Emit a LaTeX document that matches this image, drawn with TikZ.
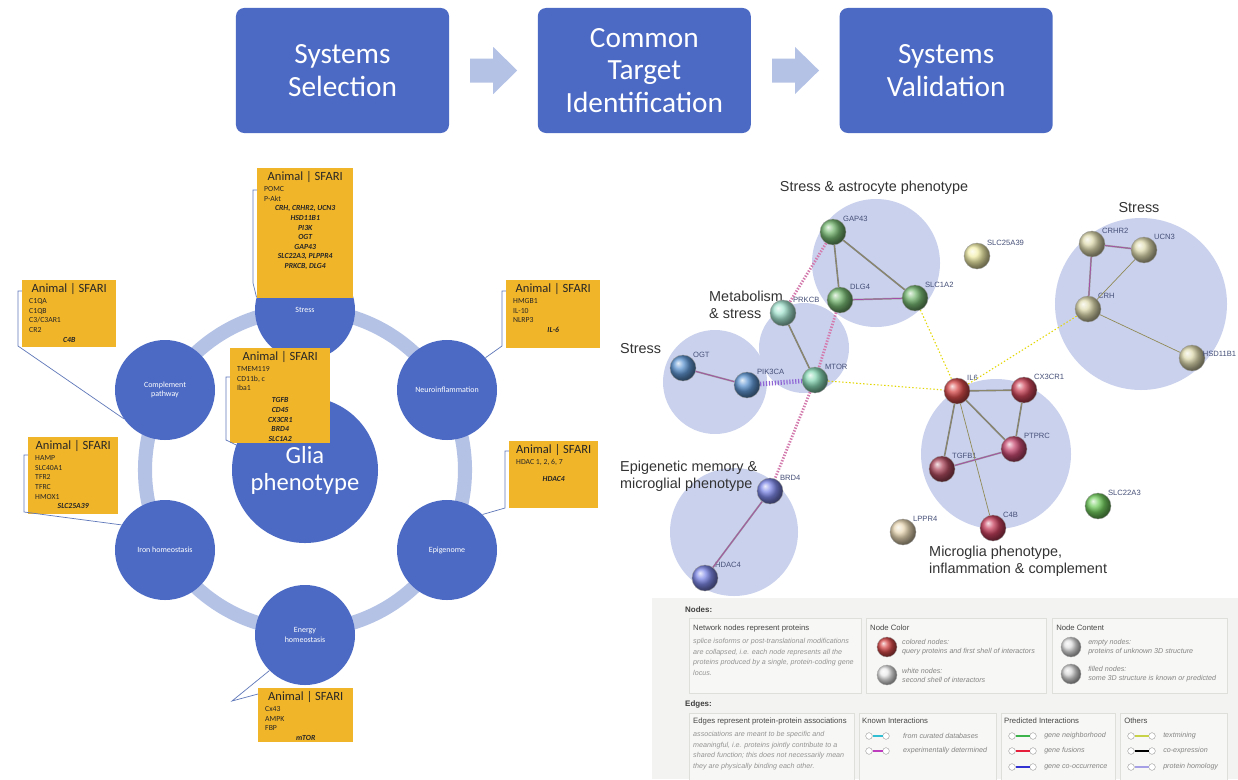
\documentclass[tikz,border=0pt]{standalone}
\usepackage{fontspec}
\setmainfont{Carlito}
\newfontfamily\netfont{Liberation Sans}
\usepackage{xcolor}
\usepackage{tikz}
\usetikzlibrary{positioning,calc}

\definecolor{boxblue}{RGB}{76,106,196}
\definecolor{ringblue}{RGB}{180,194,230}
\definecolor{ygold}{RGB}{241,181,42}
\definecolor{callline}{RGB}{95,120,185}
\definecolor{clusfill}{RGB}{202,209,237}
\definecolor{lblcol}{RGB}{70,80,120}
\definecolor{legbg}{RGB}{243,243,241}
\definecolor{legbox}{RGB}{247,247,245}
\definecolor{legline}{RGB}{222,222,218}
% node colours of the network
\definecolor{cgreen}{RGB}{120,185,115}
\definecolor{cteal}{RGB}{165,228,208}
\definecolor{cmint}{RGB}{135,215,180}
\definecolor{cblue}{RGB}{95,150,210}
\definecolor{cviolet}{RGB}{125,135,230}
\definecolor{cpale}{RGB}{242,238,170}
\definecolor{ckhaki}{RGB}{222,218,175}
\definecolor{cred}{RGB}{215,75,75}
\definecolor{crose}{RGB}{205,70,90}
\definecolor{cmag}{RGB}{200,75,115}
\definecolor{cmaroon}{RGB}{175,75,95}
\definecolor{cfourb}{RGB}{200,65,95}
\definecolor{ctan}{RGB}{232,215,180}
\definecolor{clime}{RGB}{115,205,95}
% legend edge colours
\definecolor{ecurated}{RGB}{50,190,210}
\definecolor{eexper}{RGB}{190,60,190}
\definecolor{eneigh}{RGB}{60,180,75}
\definecolor{efusion}{RGB}{230,30,60}
\definecolor{ecooc}{RGB}{50,50,210}
\definecolor{etext}{RGB}{200,210,70}
\definecolor{ehomol}{RGB}{165,160,230}

\newcommand{\fsz}[2]{\fontsize{#1}{#2}\selectfont}
\newcommand{\ybody}[3]{\parbox[c][#2][t]{#1}{\raggedright #3}}
\newcommand{\ytitle}{{\fsz{10.7}{11}\makebox[\linewidth][c]{Animal | SFARI}\par}\vspace{1.5pt}}
\newcommand{\ysfari}[1]{{\centering\bfseries\itshape #1\par}}
\newcommand{\legedge}[5]{%
  \node[lend] (#1a) at (#2,#4) {};
  \node[lend] (#1b) at (#3,#4) {};
  \draw[draw=#5, line width=1.3pt] (#1a) -- (#1b);}

\begin{document}
\begin{tikzpicture}[
      x=0.03cm, y=-0.03cm,
      stage/.style={rectangle, rounded corners=7pt, fill=boxblue, text=white,
        minimum width=6.39cm, minimum height=3.75cm, align=center, font=\fsz{25}{28}},
      flow/.style={fill=ringblue},
      ring/.style={draw=ringblue, line width=12pt},
      hub/.style={circle, fill=boxblue, text=white, minimum size=4.38cm, inner sep=0,
        align=center, font=\fsz{21}{23}},
      sat/.style={circle, fill=boxblue, text=white, minimum size=3cm, inner sep=0,
        align=center, font=\fsz{6.8}{8}},
      ybox/.style={rectangle, fill=ygold, text=black!85, inner xsep=0.21cm, inner ysep=0.09cm,
        anchor=north west, font=\fsz{6.6}{8.2}},
      callout/.style={draw=callline, line width=0.6pt},
      clus/.style={fill=clusfill},
      clab/.style={font=\netfont\fsz{12.3}{14.8}, text=black!80, inner sep=0},
      prot/.style={circle, minimum size=0.78cm, inner sep=0, draw=black!40, line width=0.3pt},
      plab/.style={font=\netfont\fsz{6.5}{7}, text=lblcol, inner sep=0.5pt, anchor=south west},
      cedge/.style={draw=black!50, double=gray!70!olive, double distance=0.5pt, line width=0.45pt},
      pedge/.style={draw=black!40, double=violet!70, double distance=0.6pt, line width=0.45pt},
      tedge/.style={draw=olive!40!gray, line width=0.6pt},
      pdot/.style={draw=magenta!45!violet!60, line width=2.4pt, dash pattern=on 1.2pt off 1.3pt},
      bdot/.style={draw=blue!45!violet!60, line width=4pt, dash pattern=on 1pt off 1.5pt},
      ydot/.style={draw=yellow!75!olive, line width=0.9pt, dash pattern=on 1.2pt off 1.8pt},
      lhead/.style={font=\netfont\bfseries\fsz{6.8}{8}, text=black!75, anchor=west, inner sep=0},
      ltitle/.style={font=\netfont\fsz{6.6}{8}, text=black!72, anchor=west, inner sep=0},
      lnote/.style={font=\netfont\itshape\fsz{6.1}{9.2}, text=black!42, anchor=north west,
        align=left, inner sep=0},
      lsub/.style={font=\netfont\itshape\fsz{6.1}{7.7}, text=black!48, anchor=west,
        align=left, inner sep=0},
      lbox/.style={draw=legline, fill=legbox, line width=0.4pt},
      lball/.style={circle, minimum size=0.6cm, inner sep=0, draw=black!35, line width=0.3pt},
      lend/.style={circle, minimum size=0.2cm, inner sep=0, draw=black!45, fill=white, line width=0.3pt},
    ]
      \useasboundingbox (0,0) rectangle (1238,779);
      \fill[white] (0,0) rectangle (1238,779);

      % workflow
      \node[stage] (sel) at (342.5,70.5) {Systems\\Selection};
      \node[stage, right = 2.65cm of sel] (cti) {Common\\Target\\Identification};
      \node[stage, right = 2.65cm of cti] (val) {Systems\\Validation};
      \foreach \a in {sel,cti}
        \fill[flow] ($(\a.east)+(21,-12)$) -- ++(23,0) -- ++(0,-11.5) -- ++(24,23.5)
          -- ++(-24,23.5) -- ++(0,-11.5) -- ++(-23,0) -- cycle;

      % glia wheel
      \draw[ring] (305,470) circle (160);
      \node[hub] (glia) at (305,470) {Glia\\phenotype};
      \node[sat] (stress) at (305,310) {Stress};
      \node[sat] (compl) at (165,390) {Complement\\pathway};
      \node[sat] (neuro) at (447,390) {Neuroinflammation};
      \node[sat] (iron) at (165,550) {Iron homeostasis};
      \node[sat] (epig) at (447,550) {Epigenome};
      \node[sat] (energy) at (305,635) {Energy\\homeostasis};

      % animal | sfari boxes
      \node[ybox] (ystress) at (257,168) {\ybody{2.46cm}{3.72cm}{\ytitle
        POMC\\P-Akt\par
        \ysfari{CRH, CRHR2, UCN3\\HSD11B1\\PI3K\\OGT\\GAP43\\SLC22A3, PLPPR4\\PRKCB, DLG4}}};
      \node[ybox] (ycompl) at (22,280) {\ybody{2.40cm}{1.83cm}{\ytitle
        C1QA\\C1QB\\C3/C3AR1\\CR2\par
        \ysfari{C4B}}};
      \node[ybox] (yneuro) at (506,280) {\ybody{2.40cm}{1.86cm}{\ytitle
        HMGB1\\IL-10\\NLRP3\par
        \ysfari{IL-6}}};
      \node[ybox] (ycenter) at (230,348) {\ybody{2.58cm}{2.67cm}{\ytitle
        TMEM119\\CD11b, c\\Iba1\par\vspace{2pt}
        \ysfari{TGFB\\CD45\\CX3CR1\\BRD4\\SLC1A2}}};
      \node[ybox] (yiron) at (28,437) {\ybody{2.28cm}{2.13cm}{\ytitle
        HAMP\\SLC40A1\\TFR2\\TFRC\\HMOX1\par
        \ysfari{SLC25A39}}};
      \node[ybox] (yepig) at (509,441) {\ybody{2.25cm}{1.83cm}{\ytitle
        HDAC 1, 2, 6, 7\par\vspace{6pt}
        \ysfari{HDAC4}}};
      \node[ybox] (yenergy) at (258,688) {\ybody{2.43cm}{1.44cm}{\ytitle
        Cx43\\AMPK\\FBP\par
        \ysfari{mTOR}}};

      \draw[callout] ($(ystress.north west)+(0,22)$) -- ++(-4,0) -- ++(0,93) -- (stress.165);
      \draw[callout] ($(ycompl.north west)+(0,11)$) -- ++(-4,0) -- ++(0,55) -- (compl.215);
      \draw[callout] ($(yneuro.north west)+(0,11)$) -- ++(-4,0) -- ++(0,55) -- (neuro.40);
      \draw[callout] ($(ycenter.north west)+(0,29)$) -- ++(-4,0) -- ++(0,63) -- (glia.160);
      \draw[callout] ($(yiron.north west)+(0,18)$) -- ++(-4,0) -- ++(0,57) -- (iron.150);
      \draw[callout] ($(yepig.north west)+(0,10)$) -- ++(-4,0) -- ++(0,57) -- (epig.45);
      \draw[callout] ($(yenergy.north west)+(0,6)$) -- ++(-26,7) -- (energy.225);

      % network clusters
      \fill[clus] (876,263) circle (64);
      \fill[clus] (804,348) circle (45);
      \fill[clus] (715,382) circle (52);
      \fill[clus] (734,532) circle (64);
      \fill[clus] (996,454) circle (75);
      \fill[clus] (1141,304) circle (86);

      \node[clab] (lastro) at (874,188) {Stress \& astrocyte phenotype};
      \node[clab, anchor=west, align=left] (lmeta) at (709,305) {Metabolism\\\& stress};
      \node[clab, anchor=west] (lstressl) at (620,349) {Stress};
      \node[clab] (lstressr) at (1139,208) {Stress};
      \node[clab, anchor=west, align=left] (lepi) at (620,476) {Epigenetic memory \&\\microglial phenotype};
      \node[clab, anchor=west, align=left] (lmicro) at (929,561) {Microglia phenotype,\\inflammation \& complement};

      % proteins
      \node[prot, ball color=cgreen, label={[plab]45:GAP43}] (gap43) at (833,232) {};
      \node[prot, ball color=cgreen, label={[plab]45:DLG4}] (dlg4) at (840,300) {};
      \node[prot, ball color=cgreen, label={[plab]45:SLC1A2}] (slc1a2) at (915,298) {};
      \node[prot, ball color=cteal, label={[plab]45:PRKCB}] (prkcb) at (783,313) {};
      \node[prot, ball color=cmint, label={[plab]45:MTOR}] (mtor) at (815,380) {};
      \node[prot, ball color=cblue, label={[plab]45:OGT}] (ogt) at (683,368) {};
      \node[prot, ball color=cblue, label={[plab]45:PIK3CA}] (pik3ca) at (747,385) {};
      \node[prot, ball color=cpale, label={[plab]45:SLC25A39}] (slc25a39) at (977,256) {};
      \node[prot, ball color=ckhaki, label={[plab]45:CRHR2}] (crhr2) at (1092,244) {};
      \node[prot, ball color=ckhaki, label={[plab]45:UCN3}] (ucn3) at (1144,250) {};
      \node[prot, ball color=ckhaki, label={[plab]45:CRH}] (crh) at (1088,309) {};
      \node[prot, ball color=ckhaki, label={[plab, anchor=west, xshift=-2pt]20:HSD11B1}] (hsd11b1) at (1192,358) {};
      \node[prot, ball color=cred, label={[plab]45:IL6}] (il6) at (957,391) {};
      \node[prot, ball color=crose, label={[plab]45:CX3CR1}] (cx3cr1) at (1024,390) {};
      \node[prot, ball color=cmag, label={[plab]45:PTPRC}] (ptprc) at (1014,449) {};
      \node[prot, ball color=cmaroon, label={[plab]45:TGFB1}] (tgfb1) at (942,469) {};
      \node[prot, ball color=cviolet, label={[plab]45:BRD4}] (brd4) at (770,491) {};
      \node[prot, ball color=cviolet, label={[plab]45:HDAC4}] (hdac4) at (705,578) {};
      \node[prot, ball color=ctan, label={[plab]45:LPPR4}] (lppr4) at (903,532) {};
      \node[prot, ball color=cfourb, label={[plab]45:C4B}] (c4b) at (993,528) {};
      \node[prot, ball color=clime, label={[plab]45:SLC22A3}] (slc22a3) at (1098,506) {};

      % associations
      \draw[cedge] (gap43) -- (dlg4);
      \draw[cedge] (gap43) -- (slc1a2);
      \draw[pedge] (dlg4) -- (slc1a2);
      \draw[pdot] (gap43) -- (prkcb);
      \draw[pdot] (dlg4) -- (mtor);
      \draw[cedge] (prkcb) -- (mtor);
      \draw[pedge] (ogt) -- (pik3ca);
      \draw[bdot] (pik3ca) -- (mtor);
      \draw[pdot] (mtor) -- (brd4);
      \draw[pedge] (brd4) -- (hdac4);
      \draw[ydot] (mtor) -- (il6);
      \draw[ydot] (slc1a2) -- (il6);
      \draw[ydot] (il6) -- (crh);
      \draw[pedge] (crhr2) -- (ucn3);
      \draw[pedge] (crhr2) -- (crh);
      \draw[tedge] (ucn3) -- (crh);
      \draw[tedge] (crh) -- (hsd11b1);
      \draw[cedge] (il6) -- (cx3cr1);
      \draw[cedge] (il6) -- (tgfb1);
      \draw[cedge] (il6) -- (ptprc);
      \draw[tedge] (il6) -- (c4b);
      \draw[cedge] (cx3cr1) -- (ptprc);
      \draw[pedge] (tgfb1) -- (ptprc);

      % legend
      \fill[legbg] (652,598) rectangle (1238,779);
      \foreach \a/\b/\c/\d in {689/618/861/693, 866/618/1046/693, 1052/618/1227/693,
          689/713/854/782, 859/713/996/782, 1001/713/1115/782, 1120/713/1227/782}
        \draw[lbox] (\a,\b) rectangle (\c,\d);

      \node[lhead] (hnodes) at (685,610) {Nodes:};
      \node[ltitle] (tnet) at (693,628) {Network nodes represent proteins};
      \node[lnote] (nnet) at (693,638) {splice isoforms or post-translational modifications\\
        are collapsed, i.e. each node represents all the\\
        proteins produced by a single, protein-coding gene\\locus.};
      \node[ltitle] (tcol) at (870,628) {Node Color};
      \node[lball, ball color=cred] (bcol) at (887,647) {};
      \node[lsub] (scol) at (902,647) {colored nodes:\\query proteins and first shell of interactors};
      \node[lball, ball color=black!8] (bwhite) at (887,675) {};
      \node[lsub] (swhite) at (902,675) {white nodes:\\second shell of interactors};
      \node[ltitle] (tcont) at (1056,628) {Node Content};
      \node[lball, ball color=black!12] (bempty) at (1071,647) {};
      \node[lsub] (sempty) at (1088,647) {empty nodes:\\proteins of unknown 3D structure};
      \node[lball, ball color=black!16] (bfill) at (1071,674) {};
      \node[lsub] (sfill) at (1088,674) {filled nodes:\\some 3D structure is known or predicted};

      \node[lhead] (hedges) at (685,704) {Edges:};
      \node[ltitle] (tedg) at (693,721) {Edges represent protein-protein associations};
      \node[lnote] (nedg) at (693,731) {associations are meant to be specific and\\
        meaningful, i.e. proteins jointly contribute to a\\
        shared function; this does not necessarily mean\\
        they are physically binding each other.};
      \node[ltitle] (tknown) at (862,721) {Known Interactions};
      \legedge{kcur}{869}{886}{736}{ecurated}
      \node[lsub] (skcur) at (903,736) {from curated databases};
      \legedge{kexp}{869}{886}{751}{eexper}
      \node[lsub] (skexp) at (903,751) {experimentally determined};
      \node[ltitle] (tpred) at (1004,721) {Predicted Interactions};
      \legedge{pnei}{1012}{1033}{736}{eneigh}
      \node[lsub] (spnei) at (1044,736) {gene neighborhood};
      \legedge{pfus}{1012}{1033}{751}{efusion}
      \node[lsub] (spfus) at (1044,751) {gene fusions};
      \legedge{pcoo}{1012}{1033}{767}{ecooc}
      \node[lsub] (spcoo) at (1044,767) {gene co-occurrence};
      \node[ltitle] (tothers) at (1124,721) {Others};
      \legedge{otxt}{1131}{1152}{736}{etext}
      \node[lsub] (sotxt) at (1163,736) {textmining};
      \legedge{ocoe}{1131}{1152}{751}{black}
      \node[lsub] (socoe) at (1163,751) {co-expression};
      \legedge{ohom}{1131}{1152}{767}{ehomol}
      \node[lsub] (sohom) at (1163,767) {protein homology};
    \end{tikzpicture}
\end{document}
